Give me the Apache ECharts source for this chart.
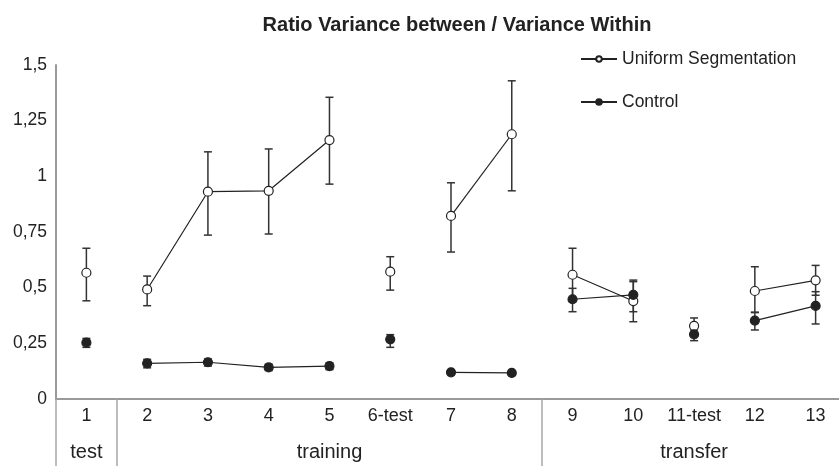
<!DOCTYPE html>
<html>
<head>
<meta charset="utf-8">
<script src="https://cdn.jsdelivr.net/npm/echarts@6/dist/echarts.min.js"></script>
<style>
  html, body { margin: 0; padding: 0; background: #fff; overflow: hidden; }
  /* a little wider than the window so the axis runs off the right edge */
  #chart { width: 846px; height: 466px; }
</style>
</head>
<body>
<div id="chart"></div>
<script>
// categories on the x axis
const categories = ['1', '2', '3', '4', '5', '6-test', '7', '8', '9', '10', '11-test', '12', '13'];
// phase groups under the axis
const groupNames = ['test', 'training', 'transfer'];
const groupSpans = [1, 7, 5];
// runs of points joined by a line (start index, end index)
const segments = [[0, 0], [1, 4], [5, 5], [6, 7], [8, 9], [10, 10], [11, 12]];

const uniformMean = [0.567, 0.492, 0.931, 0.935, 1.163, 0.572, 0.822, 1.189, 0.558, 0.440, 0.328, 0.485, 0.533];
const uniformLow = [0.441, 0.419, 0.736, 0.741, 0.965, 0.489, 0.660, 0.935, 0.438, 0.347, 0.295, 0.388, 0.466];
const uniformHigh = [0.677, 0.552, 1.110, 1.123, 1.355, 0.639, 0.971, 1.429, 0.677, 0.527, 0.364, 0.594, 0.600];

const controlMean = [0.253, 0.160, 0.165, 0.142, 0.148, 0.268, 0.120, 0.117, 0.448, 0.468, 0.290, 0.352, 0.418];
const controlLow = [0.232, 0.140, 0.148, 0.128, 0.132, 0.232, 0.112, 0.110, 0.392, 0.392, 0.262, 0.310, 0.337];
const controlHigh = [0.272, 0.178, 0.180, 0.156, 0.163, 0.289, 0.128, 0.124, 0.497, 0.534, 0.310, 0.390, 0.482];

const yTicks = [0, 0.25, 0.5, 0.75, 1, 1.25, 1.5];

// group label sits on the middle category of its span
let groupLabels = categories.map(() => '');
let boundaries = [];
let start = 0;
groupSpans.forEach((span, i) => {
  boundaries.push(start);
  groupLabels[start + Math.floor(span / 2)] = groupNames[i];
  start += span;
});

const font = '"Liberation Sans", Arial, sans-serif';
const ink = '#222';

function lineSeries(name, mean, symbolColor) {
  return segments.map(seg => ({
    name: name,
    type: 'line',
    z: 4,
    symbol: 'circle',
    symbolSize: 9,
    showAllSymbol: true,
    connectNulls: false,
    lineStyle: { color: ink, width: 1.2 },
    itemStyle: { color: symbolColor, borderColor: ink, borderWidth: 1.2 },
    emphasis: { disabled: true },
    data: mean.map((v, i) => (i >= seg[0] && i <= seg[1]) ? v : null)
  }));
}

function errorSeries(low, high) {
  return {
    type: 'custom',
    z: 2,
    silent: true,
    data: categories.map((c, i) => [i, low[i], high[i]]),
    renderItem: function (params, api) {
      const top = api.coord([api.value(0), api.value(2)]);
      const bot = api.coord([api.value(0), api.value(1)]);
      const hw = 4;
      const style = { stroke: '#333', lineWidth: 1.5 };
      return {
        type: 'group',
        children: [
          { type: 'line', shape: { x1: top[0], y1: top[1], x2: bot[0], y2: bot[1] }, style: style },
          { type: 'line', shape: { x1: top[0] - hw, y1: top[1], x2: top[0] + hw, y2: top[1] }, style: style },
          { type: 'line', shape: { x1: bot[0] - hw, y1: bot[1], x2: bot[0] + hw, y2: bot[1] }, style: style }
        ]
      };
    }
  };
}

let chart = echarts.init(document.getElementById('chart'));
let option = {
  animation: false,
  textStyle: { fontFamily: font },
  title: {
    text: 'Ratio Variance between / Variance Within',
    left: 452,
    textAlign: 'center',
    top: 10,
    textStyle: { fontFamily: font, fontSize: 20, fontWeight: 'bold', color: ink }
  },
  legend: {
    data: ['Uniform Segmentation', 'Control'],
    orient: 'vertical',
    left: 575,
    top: 45,
    itemGap: 25,
    itemWidth: 36,
    itemHeight: 7,
    textStyle: { fontFamily: font, fontSize: 17.5, color: ink }
  },
  grid: { left: 56, top: 65, right: 0, bottom: 67 },
  xAxis: [
    {
      type: 'category',
      data: categories,
      boundaryGap: true,
      axisLine: { lineStyle: { color: '#9a9a9a', width: 2 } },
      axisTick: {
        show: true,
        length: 70,
        interval: (index) => boundaries.indexOf(index) >= 0,
        lineStyle: { color: '#a8a8a8', width: 1.5 }
      },
      axisLabel: { interval: 0, margin: 8, fontSize: 18, color: ink, fontFamily: font }
    },
    {
      type: 'category',
      data: groupLabels,
      position: 'bottom',
      offset: 37,
      boundaryGap: true,
      axisLine: { show: false },
      axisTick: { show: false },
      axisLabel: { interval: 0, margin: 6, fontSize: 20, color: ink, fontFamily: font }
    }
  ],
  yAxis: {
    type: 'value',
    min: yTicks[0],
    max: yTicks[yTicks.length - 1],
    interval: yTicks[1] - yTicks[0],
    axisLine: { show: true, lineStyle: { color: '#9a9a9a', width: 2 } },
    axisTick: { show: false },
    splitLine: { show: false },
    axisLabel: {
      margin: 9,
      fontSize: 17.5,
      color: ink,
      fontFamily: font,
      formatter: v => String(v).replace('.', ',')
    }
  },
  series: [
    errorSeries(uniformLow, uniformHigh),
    errorSeries(controlLow, controlHigh)
  ].concat(lineSeries('Uniform Segmentation', uniformMean, '#fff'))
   .concat(lineSeries('Control', controlMean, ink))
};

option && chart.setOption(option);
</script>
</body>
</html>
